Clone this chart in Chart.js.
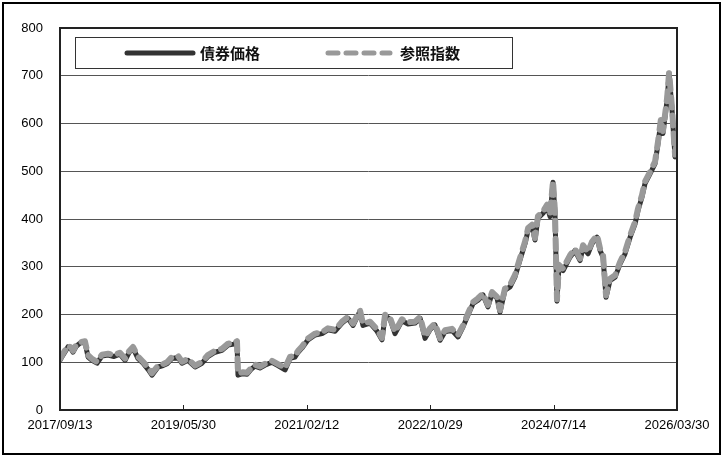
<!DOCTYPE html>
<html>
<head>
<meta charset="utf-8">
<script src="https://cdn.jsdelivr.net/npm/chart.js@4"></script>
<style>
  html, body { margin: 0; padding: 0; background: #fff; }
  #wrap { position: relative; width: 723px; height: 457px; }
</style>
</head>
<body>
<div id="wrap"><canvas id="chart" width="723" height="457"></canvas></div>
<script>
const tickDates = ['2017/09/13', '2019/05/30', '2021/02/12', '2022/10/29', '2024/07/14', '2026/03/30'];
const seriesNames = ['債券価格', '参照指数'];

// days since 2017/09/13
const dayOffsets = [
    0, 15, 30, 40, 56, 66, 81, 101, 126, 142,
    162, 187, 212, 243, 273, 303, 329, 349, 369, 394,
    420, 445, 465, 496, 521, 541, 566, 597, 617, 647,
    683, 718, 748, 784, 819, 850, 880, 895, 900, 925,
    946, 966, 986, 1011, 1042, 1072, 1102, 1138, 1163, 1188,
    1204, 1224, 1254, 1290, 1325, 1355, 1391, 1426, 1456, 1482,
    1517, 1532, 1568, 1603, 1628, 1644, 1669, 1694, 1729, 1760,
    1795, 1821, 1846, 1871, 1896, 1922, 1947, 1982, 2013, 2038,
    2063, 2089, 2114, 2139, 2164, 2185, 2210, 2225, 2250, 2276,
    2301, 2326, 2352, 2367, 2387, 2402, 2417, 2443, 2463, 2478,
    2493, 2503, 2513, 2523, 2544, 2579, 2604, 2630, 2645, 2670,
    2690, 2716, 2731, 2746, 2761, 2781, 2807, 2832, 2857, 2883,
    2908, 2923, 2943, 2958, 2984, 3009, 3024, 3039, 3049, 3070,
    3080, 3095, 3100, 3110, 3120
];

const bondPrice = [
    104, 115, 125, 132, 128, 121, 133, 140, 142, 111,
    104, 98, 113, 115, 112, 117, 104, 120, 130, 108,
    98, 85, 73, 90, 93, 97, 108, 110, 98, 104,
    90, 98, 112, 121, 125, 136, 138, 142, 73, 76,
    75, 85, 92, 88, 95, 100, 93, 84, 108, 111,
    121, 130, 147, 157, 160, 168, 165, 182, 192, 177,
    207, 177, 182, 165, 147, 197, 190, 160, 187, 180,
    182, 192, 150, 168, 178, 146, 164, 167, 153, 174,
    199, 223, 230, 241, 216, 244, 234, 205, 251, 258,
    279, 314, 349, 377, 384, 356, 402, 412, 426, 405,
    477, 411, 228, 300, 292, 320, 334, 313, 341, 327,
    348, 362, 334, 320, 236, 271, 278, 306, 327, 362,
    390, 418, 446, 474, 495, 516, 558, 606, 579, 649,
    705, 628, 593, 530, 560
];

const refIndex = [
    107, 118, 128, 135, 131, 124, 136, 142, 144, 115,
    107, 101, 116, 118, 115, 120, 108, 123, 132, 112,
    101, 89, 77, 93, 96, 100, 111, 113, 101, 107,
    93, 101, 115, 124, 128, 139, 140, 144, 77, 79,
    78, 88, 95, 91, 98, 103, 96, 88, 111, 114,
    124, 133, 150, 160, 163, 171, 168, 185, 195, 181,
    209, 181, 185, 169, 151, 200, 193, 164, 190, 184,
    185, 195, 154, 171, 181, 150, 167, 170, 157, 177,
    202, 226, 234, 244, 220, 247, 237, 209, 254, 262,
    283, 318, 353, 381, 388, 360, 406, 416, 430, 409,
    480, 415, 232, 304, 296, 324, 338, 317, 345, 331,
    352, 366, 338, 324, 240, 275, 282, 310, 331, 366,
    394, 422, 450, 478, 499, 520, 562, 610, 584, 653,
    707, 632, 597, 535, 565
];

const DARK = '#333333';
const GRAY = '#999999';
const REF_DASH = [10, 8];

// frame, plot border, inner ticks and boxed legend
const decor = {
    id: 'decor',
    beforeDraw(chart) {
        const ctx = chart.ctx;
        ctx.save();
        ctx.fillStyle = '#fff';
        ctx.fillRect(0, 0, chart.width, chart.height);
        ctx.restore();
    },
    afterDraw(chart) {
        const ctx = chart.ctx;
        const a = chart.chartArea;
        const xs = chart.scales.x;
        ctx.save();
        // outer frame
        ctx.strokeStyle = '#000';
        ctx.lineWidth = 2;
        ctx.strokeRect(3, 3, 717, 451);
        // plot border
        ctx.strokeStyle = '#222';
        ctx.lineWidth = 2;
        ctx.strokeRect(a.left, a.top, a.right - a.left, a.bottom - a.top);
        // inner tick marks on x axis
        ctx.lineWidth = 1;
        xs.ticks.forEach(t => {
            const px = Math.round(xs.getPixelForValue(t.value)) + 0.5;
            ctx.beginPath();
            ctx.moveTo(px, a.bottom);
            ctx.lineTo(px, a.bottom - 5);
            ctx.stroke();
        });
        // legend box
        const bx = 75, by = 37, bw = 437, bh = 31;
        ctx.fillStyle = '#fff';
        ctx.fillRect(bx, by, bw, bh);
        ctx.strokeStyle = '#333';
        ctx.lineWidth = 1;
        ctx.strokeRect(bx + 0.5, by + 0.5, bw, bh);
        const ly = by + bh / 2 + 0.5;
        ctx.lineCap = 'round';
        ctx.strokeStyle = DARK;
        ctx.lineWidth = 5;
        ctx.beginPath();
        ctx.moveTo(127, ly);
        ctx.lineTo(193, ly);
        ctx.stroke();
        ctx.strokeStyle = GRAY;
        ctx.setLineDash(REF_DASH);
        ctx.beginPath();
        ctx.moveTo(328, ly);
        ctx.lineTo(390, ly);
        ctx.stroke();
        ctx.setLineDash([]);
        ctx.fillStyle = '#111';
        ctx.font = 'bold 15px "Noto Sans CJK JP"';
        ctx.textBaseline = 'middle';
        ctx.fillText(seriesNames[0], 200, ly);
        ctx.fillText(seriesNames[1], 400, ly);
        ctx.restore();
    }
};

new Chart(document.getElementById('chart').getContext('2d'), {
    type: 'line',
    data: {
        datasets: [
            {
                label: seriesNames[0],
                data: dayOffsets.map((d, i) => ({ x: d, y: bondPrice[i] })),
                borderColor: DARK,
                borderWidth: 5,
                borderCapStyle: 'round',
                borderJoinStyle: 'round',
                pointRadius: 0,
                order: 2
            },
            {
                label: seriesNames[1],
                data: dayOffsets.map((d, i) => ({ x: d, y: refIndex[i] })),
                borderColor: GRAY,
                borderWidth: 6,
                borderDash: REF_DASH,
                borderCapStyle: 'round',
                borderJoinStyle: 'round',
                pointRadius: 0,
                order: 1
            }
        ]
    },
    options: {
        responsive: false,
        animation: false,
        layout: { padding: { left: 0, top: 28, right: 46, bottom: 0 } },
        plugins: { legend: { display: false }, tooltip: { enabled: false } },
        scales: {
            x: {
                type: 'linear',
                min: 0,
                max: 3120,
                afterFit: s => { s.height = 47; },
                afterBuildTicks: s => { s.ticks = tickDates.map((_, i) => ({ value: i * 624 })); },
                ticks: {
                    callback: v => tickDates[Math.round(v / 624)],
                    autoSkip: false,
                    maxRotation: 0,
                    padding: 8,
                    color: '#000',
                    font: { family: 'Liberation Sans', size: 13 }
                },
                grid: { display: false, drawTicks: false },
                border: { display: false }
            },
            y: {
                min: 0,
                max: 800,
                afterFit: s => { s.width = 60; },
                ticks: {
                    stepSize: 100,
                    padding: 17,
                    color: '#000',
                    font: { family: 'Liberation Sans', size: 13 }
                },
                grid: { color: '#555', lineWidth: 1, drawTicks: false },
                border: { display: false }
            }
        }
    },
    plugins: [decor]
});
</script>
</body>
</html>
